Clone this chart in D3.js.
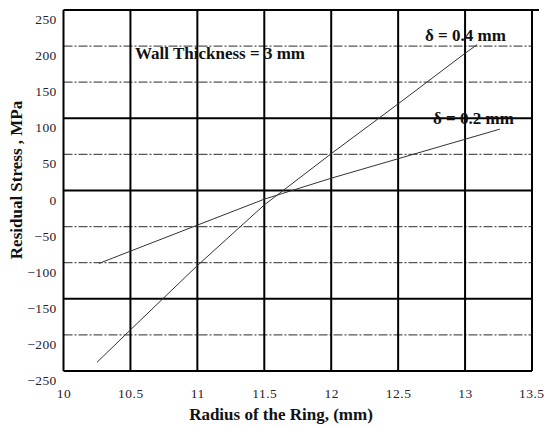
<!DOCTYPE html>
<html>
<head>
<meta charset="utf-8">
<script src="https://cdn.jsdelivr.net/npm/d3@7/dist/d3.min.js"></script>
<style>
  html, body { margin: 0; padding: 0; background: #fff; }
  svg { display: block; }
  .tick text { font-family: "Liberation Serif", "Times New Roman", serif; }
</style>
</head>
<body>
<div id="chart"></div>
<script>
// Residual stress across the ring radius for two interference values
const xTicks = [10, 10.5, 11, 11.5, 12, 12.5, 13, 13.5];
const yTicks = [250, 200, 150, 100, 50, 0, -50, -100, -150, -200, -250];
const ySolid = [250, 100, 0, -150, -250];

const radius04 = [10.25, 10.5, 11, 11.5, 12, 12.5, 13, 13.09];
const stress04 = [-238, -193, -104, -20, 51, 120, 190, 202];

const radius02 = [10.265, 10.5, 11, 11.5, 12, 12.5, 13, 13.26];
const stress02 = [-101, -84, -48, -12, 17, 44, 71, 85];

const W = 544, H = 427;
const x = d3.scaleLinear().domain([10, 13.5]).range([63.5, 532]);
const y = d3.scaleLinear().domain([-250, 250]).range([371, 10]);

const svg = d3.select("#chart").append("svg")
  .attr("width", W).attr("height", H);

const serif = "'Liberation Serif', 'Times New Roman', serif";

// horizontal grid: dash-dot for minor, heavy for major
svg.append("g").selectAll("line")
  .data(yTicks.filter(v => !ySolid.includes(v)))
  .join("line")
  .attr("x1", x(10)).attr("x2", x(13.5))
  .attr("y1", d => y(d)).attr("y2", d => y(d))
  .attr("stroke", "#555").attr("stroke-width", 1.2)
  .attr("stroke-dasharray", "9,2,2,2");

svg.append("g").selectAll("line")
  .data(ySolid)
  .join("line")
  .attr("x1", x(10)).attr("x2", d => d === 250 ? x(13.5) + 7 : x(13.5))
  .attr("y1", d => y(d)).attr("y2", d => y(d))
  .attr("stroke", "#000").attr("stroke-width", 2);

// vertical grid
svg.append("g").selectAll("line")
  .data(xTicks)
  .join("line")
  .attr("x1", d => x(d)).attr("x2", d => x(d))
  .attr("y1", y(250)).attr("y2", y(-250))
  .attr("stroke", "#000").attr("stroke-width", 2);

// tick labels through d3 axes
const yAxis = svg.append("g")
  .attr("transform", `translate(${x(10)},0)`)
  .call(d3.axisLeft(y).tickValues(yTicks).tickSize(0).tickPadding(7).tickFormat(d3.format("d")));
yAxis.select(".domain").remove();
yAxis.selectAll("text")
  .attr("dy", "1.0em")
  .attr("font-size", 13.5)
  .attr("letter-spacing", "0.3px")
  .attr("fill", "#2a2030");

const xAxis = svg.append("g")
  .attr("transform", `translate(0,${y(-250)})`)
  .call(d3.axisBottom(x).tickValues(xTicks).tickSize(0).tickPadding(17).tickFormat(d => String(d)));
xAxis.select(".domain").remove();
xAxis.selectAll("text")
  .attr("font-size", 13.5)
  .attr("letter-spacing", "0.5px")
  .attr("fill", "#2a2030");
// keep the last label inside the page edge
xAxis.selectAll(".tick").filter(d => d === 13.5).select("text")
  .attr("text-anchor", "end")
  .attr("x", 12);

// data curves
const line = d3.line().x(d => x(d[0])).y(d => y(d[1]));
const series = [
  d3.zip(radius04, stress04),
  d3.zip(radius02, stress02)
];
svg.append("g").selectAll("path")
  .data(series)
  .join("path")
  .attr("d", line)
  .attr("fill", "none")
  .attr("stroke", "#333")
  .attr("stroke-width", 1);

// annotations
const ann = svg.append("g")
  .attr("font-family", serif)
  .attr("font-weight", "bold")
  .attr("font-size", 17)
  .attr("fill", "#111");

ann.append("text").attr("x", 135).attr("y", 59)
  .text("Wall Thickness = 3 mm");
ann.append("text").attr("x", 425).attr("y", 41)
  .text("δ = 0.4 mm");
ann.append("text").attr("x", 433).attr("y", 124)
  .text("δ = 0.2 mm");

// axis titles
svg.append("text")
  .attr("x", 281).attr("y", 420)
  .attr("text-anchor", "middle")
  .attr("font-family", serif).attr("font-weight", "bold").attr("font-size", 17)
  .attr("fill", "#111")
  .text("Radius of the Ring, (mm)");

svg.append("text")
  .attr("transform", "translate(22,180) rotate(-90)")
  .attr("text-anchor", "middle")
  .attr("font-family", serif).attr("font-weight", "bold").attr("font-size", 17)
  .attr("fill", "#111")
  .text("Residual Stress , MPa");
</script>
</body>
</html>
